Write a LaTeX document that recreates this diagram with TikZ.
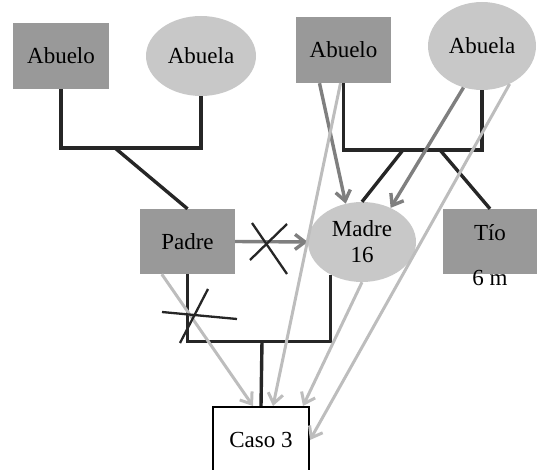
\documentclass[tikz,border=0pt]{standalone}
\usepackage{fontspec}
\setmainfont{Liberation Serif}
\usetikzlibrary{arrows.meta}
\usetikzlibrary{shapes.geometric}
\tikzset{>={Straight Barb[width=15pt,length=10pt]}}
\definecolor{boxgray}{HTML}{999999}
\definecolor{ovalgray}{HTML}{C8C8C8}
\definecolor{darkarrow}{HTML}{7F7F7F}
\definecolor{lightarrow}{HTML}{BDBDBD}
\definecolor{kinline}{HTML}{262626}
\tikzset{
  male/.style={fill=boxgray, minimum width=95pt, minimum height=65pt, inner sep=0pt, font=\fontsize{23}{26}\selectfont},
  female/.style={ellipse, fill=ovalgray, minimum width=108pt, minimum height=80pt, inner sep=0pt, font=\fontsize{23}{26}\selectfont},
  kin/.style={draw=kinline, line width=3.4pt},
  link/.style={draw=darkarrow, line width=3.4pt, ->},
  hint/.style={draw=lightarrow, line width=3pt, ->},
  cut/.style={draw=kinline, line width=2.3pt}
}

\begin{document}
\begin{tikzpicture}[x=1pt, y=-1pt]
    \useasboundingbox (0,0) rectangle (537,470);

    \node (abueloL) at (61,56) [male, minimum width=96pt, minimum height=66pt] {Abuelo};
    \node (abuelaL) at (201,56) [female, minimum width=110pt] {Abuela};
    \node (abueloR) at (343.5,50) [male, minimum height=66pt] {Abuelo};
    \node (abuelaR) at (482,46) [female, minimum height=88pt] {Abuela};
    \node (padre) at (187.5,241.5) [male] {Padre};
    \node (madre) at (362,242) [female, align=center] {Madre\\16};
    \node (tio) at (490,241.5) [male, text depth=18pt, label={[inner sep=0pt, font=\fontsize{23}{26}\selectfont, label distance=-4pt]below:6 m}] {Tío};
    \node (caso) at (261,440) [male, fill=white, draw=black, line width=2pt, minimum width=96pt, minimum height=66pt] {Caso 3};

    \coordinate (barL) at (115,148);
    \coordinate (barRa) at (403,150);
    \coordinate (barRb) at (440,150);
    \coordinate (barC) at (262,341);

    \path [kin] (abueloL.south) -- ++(0,59) -| (abuelaL.south);
    \path [kin] (barL) -- (padre.north);
    \path [kin] (abueloR.south) -- ++(0,67) -| (abuelaR.south);
    \path [kin] (barRa) -- (madre.north);
    \path [kin] (barRb) -- (tio.north);
    \path [kin] (padre.south) -- ++(0,67) -| (madre.-134);
    \path [kin] (barC) -- (caso.north);

    \path [link] (padre.east) -- (madre.west);
    \path [link] ([xshift=-24pt]abueloR.south) -- (madre.113);
    \path [link] (abuelaR.246) -- (madre.50);

    \path [hint] ([xshift=22pt]padre.south west) -- ([xshift=-8pt]caso.north);
    \path [hint] ([xshift=-3pt]abueloR.south) -- ([xshift=12pt]caso.north);
    \path [hint] (madre.south) -- ([xshift=42pt]caso.north);
    \path [hint] (abuelaR.-54) -- (caso.east);

    \path [cut] (252,223) -- (287,274);
    \path [cut] (250,260) -- (287,224);
    \path [cut] (162,312) -- (237,319);
    \path [cut] (208,289) -- (180,343);
\end{tikzpicture}
\end{document}
